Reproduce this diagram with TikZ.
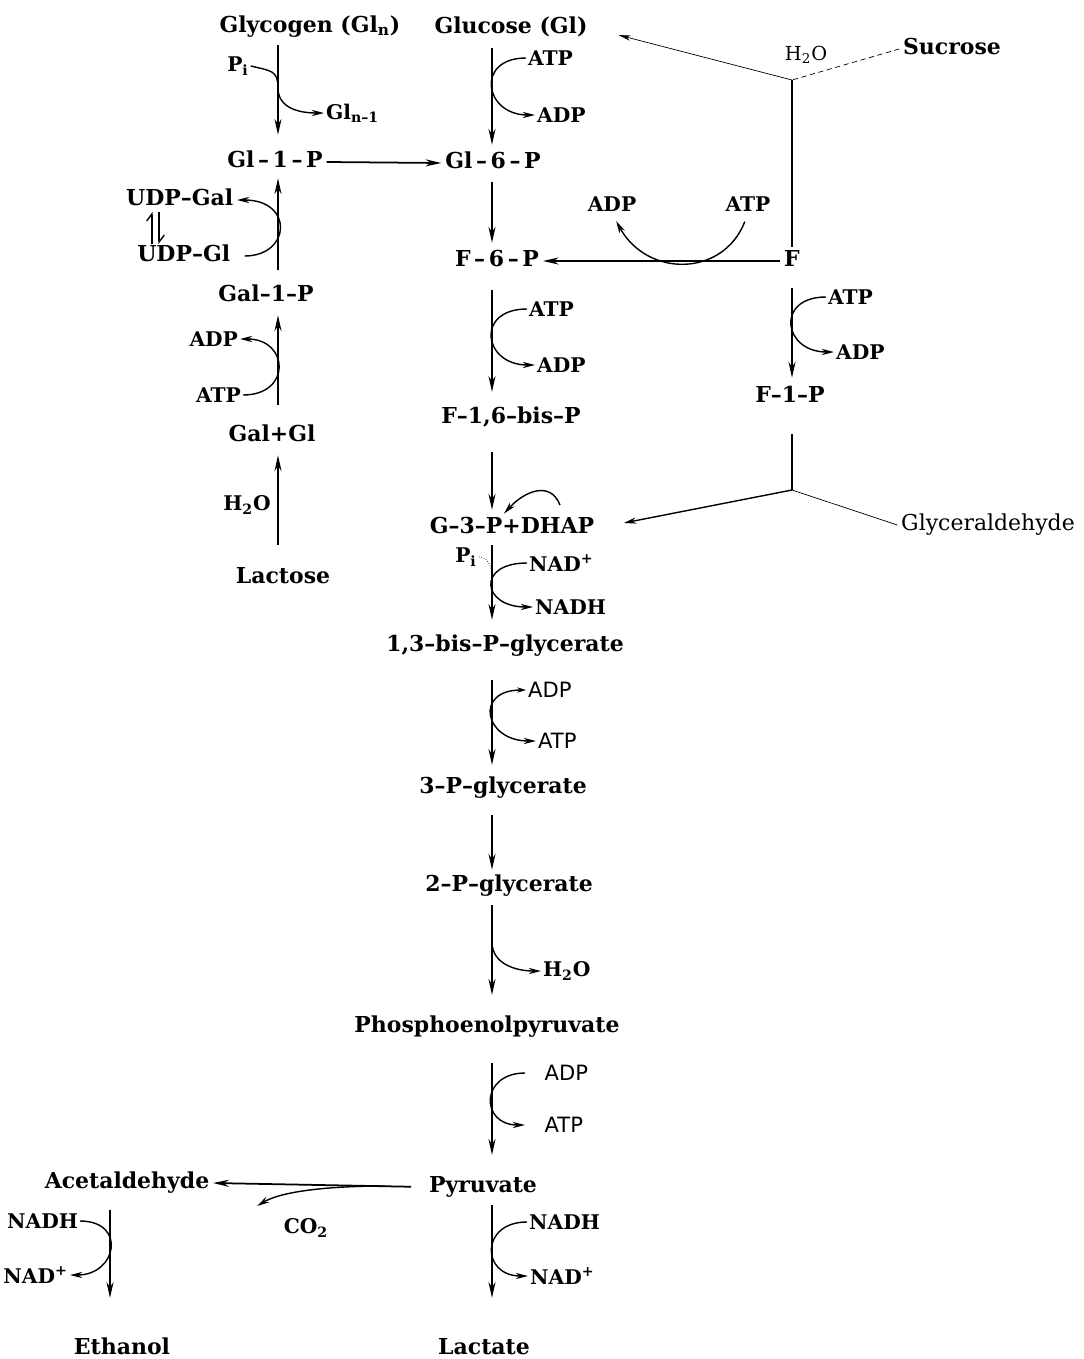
\documentclass[tikz,border=0pt]{standalone}
\usepackage{fontspec}
\setmainfont{DejaVu Serif}
\newfontfamily\sansf{DejaVu Sans}
\usetikzlibrary{arrows.meta,calc}

\tikzset{
  met/.style={font=\bfseries\fontsize{12.5}{15}\selectfont, inner sep=2pt, text height=9pt, text depth=3pt},
  plain/.style={font=\fontsize{12.5}{15}\selectfont, inner sep=2pt, text height=9pt, text depth=3pt},
  cof/.style={font=\bfseries\fontsize{11.5}{14}\selectfont, inner sep=1pt},
  cofs/.style={font=\sansf\fontsize{12}{14}\selectfont, inner sep=1pt},
  rxn/.style={line width=1pt, -{Stealth[length=9pt,width=4pt]}},
  side/.style={line width=0.8pt, -{Stealth[length=7pt,width=3.5pt]}},
  both/.style={line width=0.8pt, {Stealth[length=5pt,width=3pt]}-{Stealth[length=7pt,width=3.5pt]}},
  harp/.style={line width=0.8pt, -{Straight Barb[left,length=4pt,width=6pt]}, shorten <=-1.5pt, shorten >=-1.5pt},
  bare/.style={line width=0.8pt},
}

\begin{document}
\begin{tikzpicture}[x=0.02cm, y=-0.02cm]
\useasboundingbox (0,0) rectangle (1084,1359);
% Columns
\coordinate (c0) at (110,0);
\coordinate (c1) at (278,0);
\coordinate (c2) at (492,0);
\coordinate (c3) at (792,0);

% Galactose / glycogen side
\node[met] (glyc) at (310,27) {Glycogen (Gl\textsubscript{n})};
\node[cof] (pi1) at (238,66) {P\textsubscript{i}};
\node[cof, anchor=west] (gln1) at (324,113) {Gl\textsubscript{n--1}};
\node[met] (g1p) at (275,162) {Gl\,--\,1\,--\,P};
\node[met, anchor=east] (udpgal) at (237,200) {UDP--Gal};
\node[met, anchor=east] (udpgl) at (234,256) {UDP--Gl};
\node[met] (gal1p) at (266,296) {Gal--1--P};
\node[cof, anchor=east] (adpG) at (240,339) {ADP};
\node[cof, anchor=east] (atpG) at (243,395) {ATP};
\node[met] (galgl) at (272,436) {Gal+Gl};
\node[cof] (h2oL) at (247,505) {H\textsubscript{2}O};
\node[met] (lac) at (283,578) {Lactose};

% Glycolysis column
\node[met] (glc) at (511,28) {Glucose (Gl)};
\node[cof, anchor=west] (atp1) at (526,58) {ATP};
\node[cof, anchor=west] (adp1) at (535,115) {ADP};
\node[met] (g6p) at (493,163) {Gl\,--\,6\,--\,P};
\node[met] (f6p) at (497,261) {F\,--\,6\,--\,P};
\node[cof] (adpF) at (612,204) {ADP};
\node[cof] (atpF) at (748,204) {ATP};
\node[cof, anchor=west] (atp2) at (527,309) {ATP};
\node[cof, anchor=west] (adp2) at (535,365) {ADP};
\node[met] (f16bp) at (511,418) {F--1,6--bis--P};
\node[met] (g3p) at (512,528) {G--3--P+DHAP};
\node[cof] (pi2) at (466,557) {P\textsubscript{i}};
\node[cof, anchor=west] (nad1) at (527,563) {NAD\textsuperscript{+}};
\node[cof, anchor=west] (nadh1) at (533,607) {NADH};
\node[met] (bpg) at (505,646) {1,3--bis--P--glycerate};
\node[cofs, anchor=west] (adp4) at (526,690) {ADP};
\node[cofs, anchor=west] (atp4) at (536,741) {ATP};
\node[met] (pg3) at (503,788) {3--P--glycerate};
\node[met] (pg2) at (509,886) {2--P--glycerate};
\node[cof, anchor=west] (h2o4) at (541,971) {H\textsubscript{2}O};
\node[met] (pep) at (487,1027) {Phosphoenolpyruvate};
\node[cofs, anchor=west, inner xsep=11pt] (adp5) at (525,1073) {ADP};
\node[cofs, anchor=west, inner xsep=11pt] (atp5) at (525,1125) {ATP};
\node[met] (pyr) at (483,1187) {Pyruvate};
\node[cof, anchor=west] (nadh2) at (527,1222) {NADH};
\node[cof, anchor=west] (nad2) at (528,1276) {NAD\textsuperscript{+}};
\node[met] (lact) at (484,1349) {Lactate};

% Fermentation to ethanol
\node[met] (acet) at (127,1183) {Acetaldehyde};
\node[cof] (co2) at (306,1228) {CO\textsubscript{2}};
\node[cof, anchor=east] (nadh3) at (80,1221) {NADH};
\node[cof, anchor=east] (nad3) at (70,1275) {NAD\textsuperscript{+}};
\node[met] (eth) at (122,1349) {Ethanol};

% Fructose side
\node[met] (suc) at (952,49) {Sucrose};
\node[font=\fontsize{11}{13}\selectfont, inner sep=1pt] (h2oS) at (806,55) {H\textsubscript{2}O};
\node[met] (fru) at (792,261) {F};
\node[cof, anchor=west] (atp3) at (826,297) {ATP};
\node[cof, anchor=west] (adp3) at (834,352) {ADP};
\node[met] (f1p) at (790,397) {F--1--P};
\node[plain] (gald) at (988,525) {Glyceraldehyde};
\coordinate (vS) at (792,80);
\coordinate (vG) at (792,490);

% Main arrows
\foreach \a/\b/\c/\s/\e in {glc/g6p/c2/3.3/2.2, g6p/f6p/c2/2.8/2.2, f6p/f16bp/c2/8.4/6.7,
    f16bp/g3p/c2/11.3/2.2, g3p/bpg/c2/1.6/6.7, bpg/pg3/c2/11.3/5, pg3/pg2/c2/7.3/1.1,
    pg2/pep/c2/2.8/10.1, pep/pyr/c2/12.4/10.1, pyr/lact/c2/2.2/20.9,
    glyc/g1p/c1/2.2/7.3, acet/eth/c0/7.3/20.9, fru/f1p/c3/7.3/2.8}
  \draw[rxn, shorten <=\s pt, shorten >=\e pt] (\a.south -| \c) -- (\b.north -| \c);
\foreach \a/\b/\s/\e in {gal1p/g1p/6.7/1.1, galgl/gal1p/9.6/2.8, lac/galgl/10.7/2.8}
  \draw[rxn, shorten <=\s pt, shorten >=\e pt] (\a.north -| c1) -- (\b.south -| c1);
\draw[rxn] (g1p.east) -- (g6p.west);
\draw[rxn] (fru.west) -- (f6p.east);
\draw[rxn, shorten <=8pt] (pyr.west) -- (acet.east);

% UDP-Gal <=> UDP-Gl
\coordinate (eqL) at (152,0);
\coordinate (eqR) at (159,0);
\draw[harp] (udpgl.north -| eqL) -- (udpgal.south -| eqL);
\draw[harp] (udpgal.south -| eqR) -- (udpgl.north -| eqR);

% Sucrose and glyceraldehyde branches
\draw[thin, densely dashed] (suc.west) -- (vS);
\draw[thin, -{Stealth[length=7pt,width=3pt]}, shorten >=16pt] (vS) -- (glc.east);
\draw[bare] (vS) -- (fru.north);
\draw[bare, shorten <=13pt] (f1p.south -| c3) -- (vG);
\draw[thin] (vG) -- (gald.west);
\draw[side, shorten >=15pt] (vG) -- (g3p.east);

% Co-substrates
\coordinate (t1) at (278,88);
\draw[side] (pi1.east) .. controls +(20,5) and +(0,-18) .. (t1) .. controls +(0,20) and +(-25,0) .. (gln1.west);
\draw[side] (atp1.west) .. controls +(-51,0) and +(-51,0) .. (adp1.west);
\draw[side, shorten <=6pt] (udpgl.east) .. controls +(57,0) and +(57,0) .. (udpgal.east);
\draw[side] (atpG.east) .. controls +(49,0) and +(49,0) .. (adpG.east);
\draw[side, shorten <=5pt, shorten >=5pt] (atpF.south) .. controls +(-25,64) and +(35,64) .. (adpF.south);
\draw[side] (atp2.west) .. controls +(-52,0) and +(-52,0) .. (adp2.west);
\draw[side] (atp3.west) .. controls +(-51,0) and +(-51,0) .. (adp3.west);
\coordinate (iso) at (560,505);
\draw[side] (iso) .. controls +(-10,-25) and +(20,-22) .. ($(g3p.north -| c2)+(12,0)$);
\coordinate (tpi) at (492,578);
\draw[thin, densely dotted] (pi2.east) .. controls +(10,0) and +(0,-10) .. (tpi);
\draw[side] (nad1.west) .. controls +(-51,0) and +(-51,0) .. (nadh1.west);
\draw[both] (adp4.west) .. controls +(-52,0) and +(-52,0) .. (atp4.west);
\coordinate (tw) at (492,942);
\draw[side] (tw) .. controls +(0,22) and +(-25,0) .. (h2o4.west);
\draw[side] (adp5.west) .. controls +(-45,0) and +(-45,0) .. (atp5.west);
\draw[side] (nadh2.west) .. controls +(-47,0) and +(-47,0) .. (nad2.west);
\draw[side] (nadh3.east) .. controls +(47,0) and +(47,0) .. (nad3.east);
\coordinate (tco) at (385,1186);
\coordinate (cotip) at (257,1206);
\draw[side] (tco) .. controls +(-55,0) and +(25,-15) .. (cotip);
\end{tikzpicture}
\end{document}
